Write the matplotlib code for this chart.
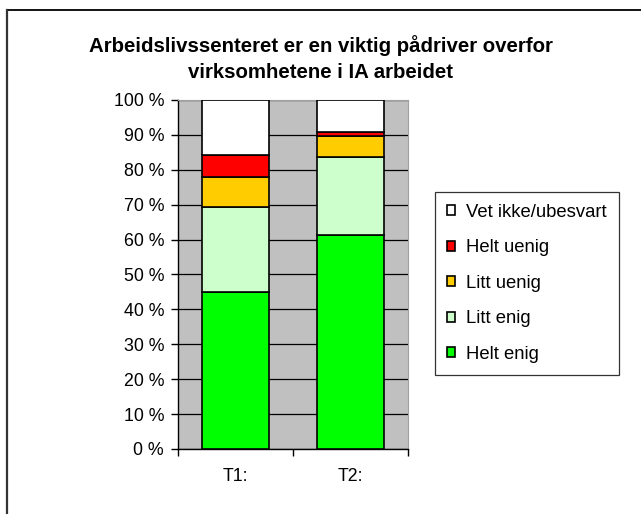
import numpy as np
import matplotlib.pyplot as plt
from matplotlib.lines import Line2D

plt.rcParams['font.family'] = ['Liberation Sans', 'DejaVu Sans']

categories = ['T1:', 'T2:']
series = ['Helt enig', 'Litt enig', 'Litt uenig', 'Helt uenig', 'Vet ikke/ubesvart']
colors = ['#00FF00', '#CCFFCC', '#FFCC00', '#FF0000', '#FFFFFF']
helt_enig = [45.0, 61.2]
litt_enig = [24.4, 22.6]
litt_uenig = [8.6, 6.0]
helt_uenig = [6.3, 1.1]
vet_ikke = [15.7, 9.1]
values = [helt_enig, litt_enig, litt_uenig, helt_uenig, vet_ikke]

fig = plt.figure(figsize=(6.41, 5.14), dpi=100)
ax = fig.add_axes([0.2777, 0.1265, 0.3588, 0.6790])
ax.set_facecolor('#C0C0C0')

x = np.arange(len(categories))
bottom = np.zeros(len(categories))
handles = []
for name, vals, col in zip(series, values, colors):
    b = ax.bar(x, vals, width=0.59, bottom=bottom, color=col, edgecolor='black',
               linewidth=1.2, label=name, zorder=3)
    handles.append(b)
    bottom += np.array(vals)

ax.set_xlim(-0.5, 1.5)
ax.set_ylim(0, 100)
ax.set_yticks(np.arange(0, 101, 10))
ax.set_yticklabels([f'{v} %' for v in range(0, 101, 10)], fontsize=12.8)
ax.yaxis.grid(True, color='black', linewidth=0.9, zorder=0)
ax.set_axisbelow(True)

# category labels between boundary ticks, like Excel
ax.set_xticks([-0.5, 0.5, 1.5])
ax.set_xticklabels([])
ax.set_xticks(x, minor=True)
ax.set_xticklabels(categories, minor=True, fontsize=12.8)
ax.tick_params(axis='x', which='minor', length=0, pad=14)
ax.tick_params(axis='x', which='major', length=5, direction='out', width=1)
ax.tick_params(axis='y', length=5, direction='out', width=1, pad=5)

for s in ['top', 'right']:
    ax.spines[s].set_color('#A0A0A0')
    ax.spines[s].set_linewidth(0.8)
for s in ['left', 'bottom']:
    ax.spines[s].set_color('black')
    ax.spines[s].set_linewidth(1)

fig.text(0.5, 0.886, 'Arbeidslivssenteret er en viktig pådriver overfor\nvirksomhetene i IA arbeidet',
         ha='center', va='center', fontsize=14.7, fontweight='bold', linespacing=1.45)

leg = fig.legend(handles[::-1], series[::-1], loc='upper left',
                 bbox_to_anchor=(0.6786, 0.6265), fontsize=13.3, frameon=True,
                 fancybox=False, edgecolor='black', handlelength=0.45, handleheight=0.45,
                 handletextpad=0.6, labelspacing=1.0, borderpad=0.65, borderaxespad=0)
leg.get_frame().set_linewidth(0.9)

# outer chart border (only top and left visible)
fig.add_artist(Line2D([0.0109, 1.0], [0.9805, 0.9805], color='black', linewidth=1.3))
fig.add_artist(Line2D([0.0109, 0.0109], [0.0, 0.9805], color='#333333', linewidth=1.6))

fig.savefig('out.png', dpi=100)
